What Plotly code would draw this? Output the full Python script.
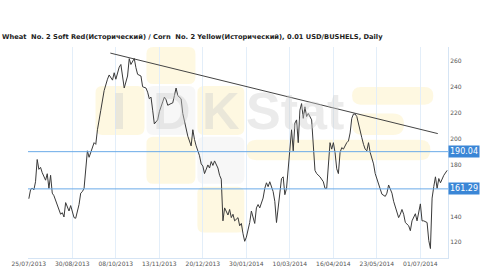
import plotly.graph_objects as go

title_text = "Wheat  No. 2 Soft Red(Исторический) / Corn  No. 2 Yellow(Исторический), 0.01 USD/BUSHELS, Daily"

# trading-day index and ratio values
day = [0, 1, 2, 3, 4, 5, 6, 7, 8, 10, 11, 12, 13, 14, 15, 17, 18, 19, 20, 21, 22, 24, 25, 26, 27, 28, 30, 31, 32, 33,
       35, 36, 37, 39, 40, 41, 43, 45, 47, 48, 50, 51, 52, 54, 55, 56, 57, 59, 60, 61, 63, 64, 65, 67, 68, 70,
       71, 72, 73, 74, 75, 77, 78, 80, 81, 82, 83, 85, 86, 87, 88, 89, 91, 92, 93, 94, 95, 97, 98, 99, 100, 102, 103, 104, 105,
       107, 108, 109, 110, 111, 112, 113, 114, 115, 116, 117, 119, 120, 121, 122, 123, 125, 126, 127, 128, 129, 130, 132, 133,
       134, 135, 136, 137, 138, 140, 141, 142,
       143, 144, 146, 147, 148, 149, 151, 152, 153, 154, 155, 156, 157, 158, 159, 160, 161, 162, 163, 164, 165, 166, 167, 169,
       170, 171, 172, 174, 176, 177,
       178, 179, 180, 181, 182, 183, 184, 185, 186, 187, 188, 190, 191, 192, 193, 194, 195, 196, 197, 198, 199, 200, 201, 202,
       203, 204, 206, 207, 208, 209, 210, 211, 213, 214,
       215, 216, 217, 218, 220, 221, 222, 223, 224, 225, 227, 228, 229, 230, 231, 232, 234, 235, 236, 238, 239, 240, 241, 242,
       243, 244, 245, 246, 247, 248, 250]
ratio = [153.7, 160.5, 162.0, 160.5, 166.8, 184.0, 176.4, 177.9, 173.8, 168.0, 173.0, 161.7, 171.8, 158.0, 156.0, 149.2,
         146.6, 141.7, 142.9, 139.6, 150.7, 144.2, 148.4, 142.9, 139.1, 138.6, 149.2, 158.0, 159.2, 161.7,
         190.7, 185.7, 189.4, 197.0, 195.7, 207.0, 222.0, 237.2, 246.0, 249.3, 245.3, 251.0, 246.0, 255.3, 257.4, 247.3,
         239.2, 248.5, 261.9, 257.4, 262.0, 254.9, 249.8, 248.5, 240.2, 239.2,
         236.0, 230.9, 232.2, 222.1, 211.5, 214.6, 220.9, 228.5, 232.2, 230.2, 225.9, 227.2, 227.7, 233.4, 239.2, 233.4,
         230.9, 219.6, 214.1, 209.6, 202.0, 194.5, 207.0, 199.5, 194.5, 186.9, 180.6, 178.9, 173.1,
         179.8, 177.4, 182.4, 179.4, 182.9, 179.4, 177.4, 171.8, 168.8, 136.6, 146.6, 141.1, 145.4, 139.1, 141.7, 136.6,
         139.1, 132.8, 134.6, 126.6, 120.8, 124.0, 135.3, 144.2, 139.1, 134.6, 146.6, 149.2, 146.6, 154.2, 161.7, 166.0,
         163.0, 166.8, 159.2, 151.7, 135.3, 146.6, 169.3, 170.6, 156.8, 161.7, 175.6, 192.0, 207.0, 190.7, 212.1, 214.6,
         197.0, 222.1, 227.2, 215.8, 224.7, 217.2, 219.6, 214.6, 197.0, 175.6, 173.1, 170.6, 166.8, 161.7,
         161.7, 178.1, 197.0, 192.0, 197.0, 189.4, 176.8, 173.1, 189.4, 193.2, 192.0, 197.0, 198.3, 204.5, 215.8, 219.1,
         219.1, 217.2, 210.8, 207.0, 200.8, 195.7, 192.0, 190.7, 197.0, 189.4, 180.6, 173.1, 169.3, 164.3, 161.7, 157.2,
         155.5, 158.0,
         164.3, 160.5, 158.0, 151.7, 144.2, 139.1, 141.7, 145.4, 141.7, 135.3, 132.8, 129.0, 136.6, 139.6, 142.1, 136.6,
         149.7, 136.6, 136.6, 135.3, 121.5, 115.2, 154.2, 163.0, 170.6, 161.7, 169.3, 166.0, 169.3, 171.8, 175.6]

trend_day = [48.7, 244.4]
trend_val = [266.2, 204.0]

levels = [190.04, 161.29]

tick_days = [0, 26, 52, 78, 104, 130, 156, 182, 208, 234]
tick_labels = ["25/07/2013", "30/08/2013", "08/10/2013", "13/11/2013", "20/12/2013",
               "30/01/2014", "10/03/2014", "16/04/2014", "23/05/2014", "01/07/2014"]
# 160 is hidden behind the 161.29 level label in the reference
y_ticks = [120, 140, 180, 200, 220, 240, 260]

W, H = 500, 279
L, R, T, B = 19, 52, 47, 16
PW, PH = W - L - R, H - T - B


def px2paper(x, y):
    return (x - L) / PW, (H - B - y) / PH


def rrect(x0, y0, x1, y1, r):
    def P(x, y):
        a, b = px2paper(x, y)
        return f"{a:.5f},{b:.5f}"
    return (f"M{P(x0 + r, y0)} L{P(x1 - r, y0)} Q{P(x1, y0)} {P(x1, y0 + r)} "
            f"L{P(x1, y1 - r)} Q{P(x1, y1)} {P(x1 - r, y1)} L{P(x0 + r, y1)} "
            f"Q{P(x0, y1)} {P(x0, y1 - r)} L{P(x0, y0 + r)} Q{P(x0, y0)} {P(x0 + r, y0)} Z")


fig = go.Figure()

shapes = []
yellow = "rgba(253,243,205,0.6)"
grayf = "rgba(240,240,240,0.55)"
boxes = [
    (88, 87, 138, 137, yellow), (140, 47, 190, 85, yellow), (140, 87, 190, 137, grayf),
    (192, 87, 240, 137, yellow), (140, 139, 190, 187, yellow), (192, 139, 240, 187, grayf),
    (192, 190, 240, 237, yellow),
]
for x0, y0, x1, y1, c in boxes:
    shapes.append(dict(type="path", path=rrect(x0, y0, x1, y1, 7), xref="paper", yref="paper",
                       fillcolor=c, line=dict(width=0), layer="below"))
pills = [(350, 88, 433, 106), (350, 115, 403, 137), (242, 142, 430, 163)]
for x0, y0, x1, y1 in pills:
    shapes.append(dict(type="path", path=rrect(x0, y0, x1, y1, (y1 - y0) / 2), xref="paper", yref="paper",
                       fillcolor=yellow, line=dict(width=0), layer="below"))

for lv in levels:
    shapes.append(dict(type="line", xref="paper", x0=0, x1=1, yref="y", y0=lv, y1=lv,
                       line=dict(color="#6aaae8", width=1)))

fig.update_layout(shapes=shapes)

fig.add_trace(go.Scatter(x=trend_day, y=trend_val, mode="lines",
                         line=dict(color="#444444", width=1), hoverinfo="skip"))
fig.add_trace(go.Scatter(x=day, y=ratio, mode="lines",
                         line=dict(color="#3a3a3a", width=1)))

annotations = []
for ch, x, y in [("I", 112, 113), ("D", 166, 113), ("K", 216, 113), ("Stat", 292, 113)]:
    a, b = px2paper(x, y)
    annotations.append(dict(text=f"<b>{ch}</b>", x=a, y=b, xref="paper", yref="paper", showarrow=False,
                            font=dict(family="Liberation Sans", size=52, color="rgba(205,205,205,0.4)"),
                            xanchor="center", yanchor="middle"))
for lv in levels:
    annotations.append(dict(text=f"{lv:.2f}", x=1, xref="paper", y=lv, yref="y", xanchor="left",
                            yanchor="middle", showarrow=False, bgcolor="#3a86d6", borderpad=1,
                            font=dict(family="DejaVu Sans", size=8, color="white")))
fig.update_layout(annotations=annotations)

fig.update_layout(
    width=W, height=H, margin=dict(l=L, r=R, t=T, b=B),
    paper_bgcolor="white", plot_bgcolor="white", showlegend=False,
    title=dict(text=f"<b>{title_text}</b>", x=2 / W, xanchor="left", xref="container",
               y=1 - 37 / H, yanchor="middle", yref="container",
               font=dict(family="DejaVu Sans", size=6.7, color="#222222")),
    xaxis=dict(range=[-0.5, 250.5], tickmode="array", tickvals=tick_days, ticktext=tick_labels,
               showgrid=True, gridcolor="#e3eef9", gridwidth=1, zeroline=False,
               showline=True, linecolor="#d5e4f4", linewidth=1, ticks="",
               tickfont=dict(family="DejaVu Sans", size=6, color="#555555")),
    yaxis=dict(range=[107.9, 270.9], side="right", tickmode="array", tickvals=y_ticks,
               showgrid=False, zeroline=False, showline=True, linecolor="#d5e4f4", linewidth=1,
               ticks="", tickfont=dict(family="DejaVu Sans", size=6, color="#555555")),
)

fig.write_html("out.html")
